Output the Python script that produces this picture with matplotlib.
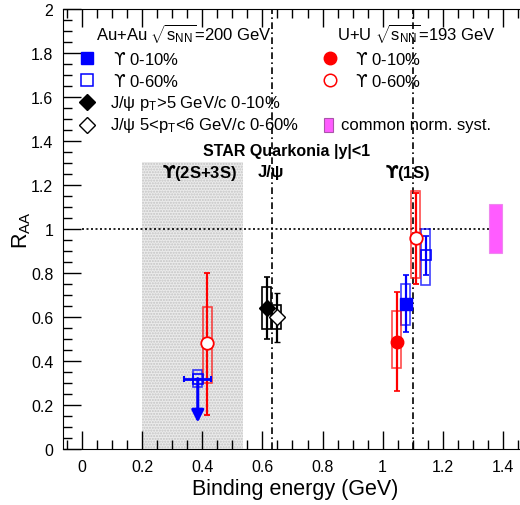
import matplotlib
matplotlib.use("Agg")
import matplotlib.pyplot as plt
from matplotlib.patches import Rectangle
from matplotlib.ticker import MultipleLocator, FormatStrFormatter

plt.rcParams["font.family"] = ["Liberation Sans", "DejaVu Sans"]
plt.rcParams["mathtext.fontset"] = "custom"
plt.rcParams["mathtext.rm"] = "Liberation Sans"
plt.rcParams["mathtext.it"] = "Liberation Sans"
# hooked upsilon (ROOT #Upsilon) comes from DejaVu
plt.rcParams["mathtext.sf"] = "DejaVu Sans"
plt.rcParams["mathtext.bf"] = "DejaVu Sans:bold"

BLUE = "#0000ff"
RED = "#ff0000"
PINK = "#ff5cff"

# binding energies (GeV)
BE_JPSI = 0.633
BE_UPS1S = 1.10
BE_23S = (0.20, 0.537)

# Au+Au Upsilon 0-10% (1S)
auau10_x = [1.077]
auau10_y = [0.66]
auau10_stat = [[0.13], [0.13]]
auau10_sys = [(0.563, 0.748)]
# Au+Au Upsilon(2S+3S) 0-10% upper limit
auau10_ul_x = 0.385
auau10_ul_y = 0.32
auau10_ul_tip = 0.12

# Au+Au Upsilon 0-60%
auau60_x = [1.143, 0.385]
auau60_y = [0.882, 0.32]
auau60_stat = [[0.092, 0.0], [0.088, 0.0]]
auau60_sys = [(0.745, 1.00), (0.28, 0.36)]

# U+U Upsilon 0-10% (1S)
uu10_x = [1.046]
uu10_y = [0.488]
uu10_stat = [[0.224], [0.227]]
uu10_sys = [(0.367, 0.629)]

# U+U Upsilon 0-60%
uu60_x = [1.110, 0.416]
uu60_y = [0.958, 0.48]
uu60_stat = [[0.208, 0.325], [0.206, 0.32]]
uu60_sys = [(0.779, 1.173), (0.30, 0.645)]

# J/psi
jpsi10_x = [0.615]
jpsi10_y = [0.64]
jpsi10_stat = [[0.14], [0.14]]
jpsi10_sys = [(0.545, 0.735)]
jpsi60_x = [0.648]
jpsi60_y = [0.60]
jpsi60_stat = [[0.115], [0.11]]
jpsi60_sys = [(0.545, 0.655)]

norm_x = 1.375
norm_sys = (0.89, 1.114)

BOX_HW = 0.015
UPS = "$\\mathsf{\u03d2}$"
UPS_B = "$\\mathbf{\u03d2}$"

fig = plt.figure(figsize=(5.2, 5.06), dpi=100)
ax = fig.add_axes([63 / 520, 56 / 506, 464 / 520, 440 / 506])
ax.set_xlim(-0.0632, 1.48)
ax.set_ylim(0, 2)

# Upsilon(2S+3S) binding-energy band
ax.add_patch(Rectangle((BE_23S[0], 0), BE_23S[1] - BE_23S[0], 1.305,
                       facecolor="#ebebeb", edgecolor="#c4c4c4", hatch="......",
                       lw=0, zorder=0))
ax.axvline(BE_JPSI, color="black", ls=(0, (4, 2, 1, 2)), lw=1.2, zorder=1)
ax.axvline(BE_UPS1S, color="black", ls=(0, (4, 2, 1, 2)), lw=1.2, zorder=1)
ax.plot([0, 1.36], [1, 1], color="black", ls=(0, (1.2, 1.5)), lw=1.2, zorder=1)

# normalisation uncertainty
ax.add_patch(Rectangle((norm_x - 0.021, norm_sys[0]), 0.042,
                       norm_sys[1] - norm_sys[0], facecolor=PINK,
                       edgecolor="#ee88ee", lw=0.8, zorder=2))


def sys_boxes(xs, sys, color, alpha=1.0):
    for x, (lo, hi) in zip(xs, sys):
        ax.add_patch(Rectangle((x - BOX_HW, lo), 2 * BOX_HW, hi - lo,
                               fill=False, edgecolor=color, lw=1.2,
                               alpha=alpha, zorder=3))


sys_boxes(jpsi10_x, jpsi10_sys, "black")
sys_boxes(jpsi60_x, jpsi60_sys, "black")
sys_boxes(auau10_x, auau10_sys, BLUE, 0.75)
sys_boxes(auau60_x, auau60_sys, BLUE, 0.75)
sys_boxes(uu10_x, uu10_sys, RED, 0.7)
sys_boxes(uu60_x, uu60_sys, RED, 0.7)

eb = dict(ls="none", elinewidth=1.6, capsize=2.5, capthick=1.2, zorder=4)
ax.errorbar(uu60_x, uu60_y, yerr=uu60_stat, color=RED, marker="o", ms=9,
            mfc="white", mec=RED, mew=1.3, **eb)
ax.errorbar(uu10_x, uu10_y, yerr=uu10_stat, color=RED, marker="o", ms=9,
            mfc=RED, mec=RED, **eb)
ax.errorbar(auau10_x, auau10_y, yerr=auau10_stat, color=BLUE, marker="s", ms=8,
            mfc=BLUE, mec=BLUE, **eb)
ax.errorbar(auau60_x, auau60_y, yerr=auau60_stat, color=BLUE, marker="s", ms=7,
            mfc="none", mec=BLUE, mew=1.2, **eb)
ax.errorbar(jpsi10_x, jpsi10_y, yerr=jpsi10_stat, color="black", marker="D",
            ms=8, mfc="black", mec="black", **eb)
ax.errorbar(jpsi60_x, jpsi60_y, yerr=jpsi60_stat, color="black", marker="D",
            ms=8, mfc="white", mec="black", mew=1.0, **eb)

# Au+Au Upsilon(2S+3S) 0-10% upper limit
ax.errorbar([auau10_ul_x], [auau10_ul_y], xerr=0.045, color=BLUE, ls="none",
            elinewidth=2, capsize=2.5, capthick=1.5, zorder=5)
ax.annotate("", xy=(auau10_ul_x, auau10_ul_tip), xytext=(auau10_ul_x, auau10_ul_y),
            arrowprops=dict(arrowstyle="-|>", color=BLUE, lw=2.2,
                            mutation_scale=18, shrinkA=0, shrinkB=0), zorder=5)

# axes styling
ax.xaxis.set_major_locator(MultipleLocator(0.2))
ax.xaxis.set_minor_locator(MultipleLocator(0.05))
ax.yaxis.set_major_locator(MultipleLocator(0.2))
ax.yaxis.set_minor_locator(MultipleLocator(0.05))
ax.xaxis.set_major_formatter(FormatStrFormatter("%g"))
ax.yaxis.set_major_formatter(FormatStrFormatter("%g"))
ax.tick_params(which="both", direction="in", top=True, right=False, width=1,
               labelsize=11.5)
ax.tick_params(which="major", length=13, pad=7)
ax.tick_params(which="minor", length=6.5)
ax.spines["right"].set_visible(False)
ax.set_xlabel("Binding energy (GeV)", fontsize=15.5, labelpad=3)
ax.set_ylabel(r"R$_{\mathrm{AA}}$", fontsize=15.5)
ax.yaxis.set_label_coords(-0.064, 0.5)

# legend-like annotations
fs = 12
ax.text(0.047, 1.895, r"Au+Au $\sqrt{\mathrm{s}_{\mathrm{NN}}}$=200 GeV", fontsize=fs, va="center")
ax.text(0.848, 1.895, r"U+U $\sqrt{\mathrm{s}_{\mathrm{NN}}}$=193 GeV", fontsize=fs, va="center")
rows = [1.777, 1.677, 1.577, 1.473]
ax.plot(0.017, rows[0], marker="s", ms=8, color=BLUE, ls="none")
ax.plot(0.017, rows[1], marker="s", ms=8, mfc="white", mec=BLUE, mew=1.1, ls="none")
ax.plot(0.017, rows[2], marker="D", ms=8, color="black", ls="none")
ax.plot(0.017, rows[3], marker="D", ms=8, mfc="white", mec="black", mew=1.0, ls="none")
ax.text(0.103, rows[0], UPS + " 0-10%", fontsize=fs, va="center")
ax.text(0.103, rows[1], UPS + " 0-60%", fontsize=fs, va="center")
ax.text(0.093, rows[2], r"J/ψ p$_{\mathrm{T}}$>5 GeV/c 0-10%", fontsize=fs, va="center")
ax.text(0.093, rows[3], r"J/ψ 5<p$_{\mathrm{T}}$<6 GeV/c 0-60%", fontsize=fs, va="center")
ax.plot(0.825, rows[0], marker="o", ms=9, color=RED, ls="none")
ax.plot(0.825, rows[1], marker="o", ms=9, mfc="white", mec=RED, mew=1.1, ls="none")
ax.text(0.908, rows[0], UPS + " 0-10%", fontsize=fs, va="center")
ax.text(0.908, rows[1], UPS + " 0-60%", fontsize=fs, va="center")
ax.add_patch(Rectangle((0.806, rows[3] - 0.03), 0.028, 0.06, facecolor=PINK,
                       edgecolor="#aa55aa", lw=0.8))
ax.text(0.862, rows[3], "common norm. syst.", fontsize=fs, va="center")

ax.text(0.68, 1.355, "STAR Quarkonia |y|<1", fontsize=11.5, weight="bold",
        ha="center", va="center")
ax.text(0.266, 1.26, UPS_B + "(2S+3S)", fontsize=12, weight="bold", va="center")
ax.text(0.585, 1.26, "J/ψ", fontsize=12, weight="bold", va="center")
ax.text(1.008, 1.26, UPS_B + "(1S)", fontsize=12, weight="bold", va="center")

fig.savefig("out.png", dpi=100)
